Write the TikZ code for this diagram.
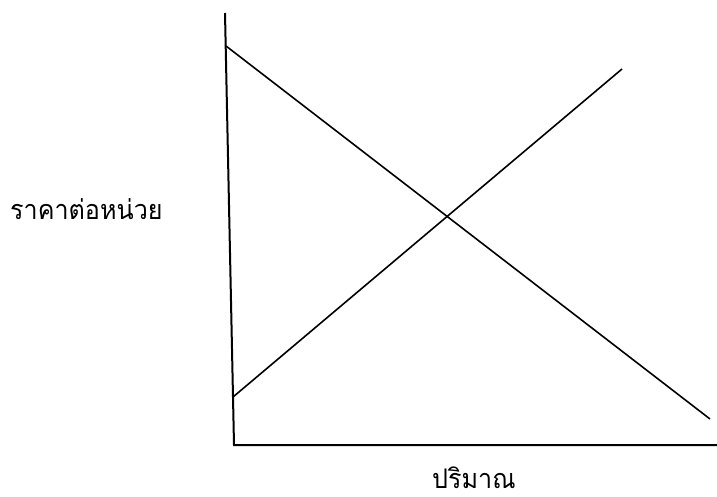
\documentclass[tikz,border=0pt]{standalone}
\usepackage{fontspec}
\newfontfamily\thaifont[Script=Thai]{Loma}
\begin{document}
\begin{tikzpicture}[x=1pt,y=-1pt,
  axisline/.style={line width=2pt,black},
  curveline/.style={line width=1.6pt,black},
  lbl/.style={font=\thaifont\fontsize{27}{30}\selectfont,inner sep=0pt,xscale=0.93,text depth=0pt}]
\useasboundingbox (0,0) rectangle (717,497);
\coordinate (ytop) at (225,13);
\coordinate (origin) at (234,445);
\coordinate (xend) at (717,445);
\coordinate (d1) at (226,46);
\coordinate (d2) at (710,419);
\coordinate (s1) at (233,397);
\coordinate (s2) at (622,69);
\draw[axisline] (ytop) -- (origin) -- (xend);
\draw[curveline] (d1) -- (d2);
\draw[curveline] (s1) -- (s2);
\node[lbl,anchor=base west] (ylabel) at (10,219) {ราคาต่อหน่วย};
\node[lbl,anchor=base west] (xlabel) at (432,488) {ปริมาณ};
\end{tikzpicture}
\end{document}
